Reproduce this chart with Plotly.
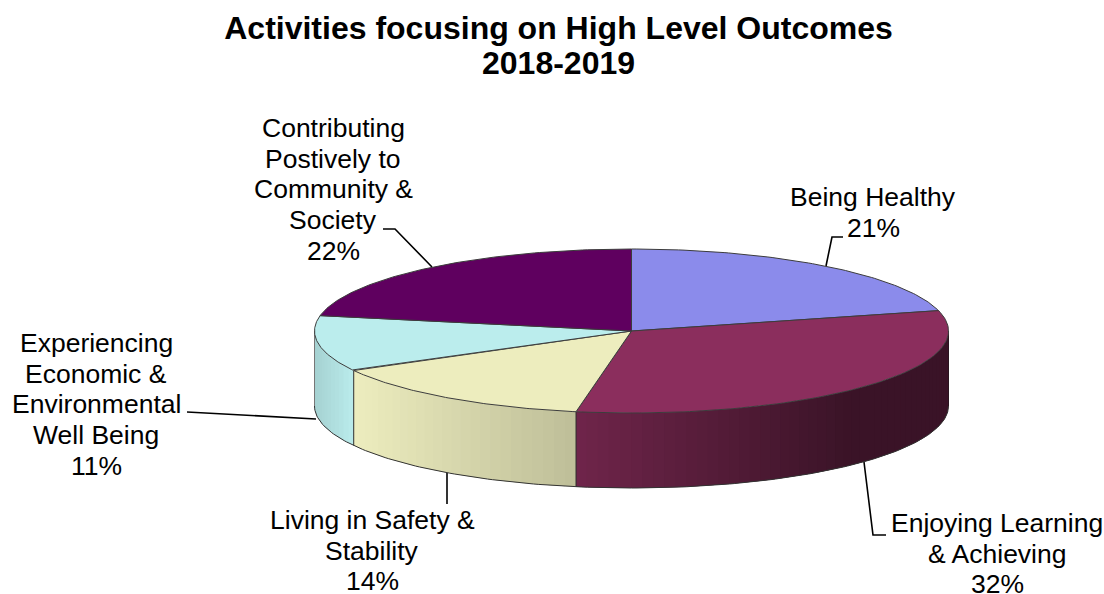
import numpy as np
import plotly.graph_objects as go

categories = ["Being Healthy", "Enjoying Learning & Achieving", "Living in Safety & Stability",
              "Experiencing Economic & Environmental Well Being", "Contributing Postively to Community & Society"]
shares = [21, 31.8, 14.2, 11, 22]
colors = ["#8B8BEB", "#8B2E5D", "#EDEDBE", "#BBEDED", "#5F005F"]
title_lines = ["Activities focusing on High Level Outcomes", "2018-2019"]
label_lines = [
    ["Being Healthy", "21%"],
    ["Enjoying Learning", "& Achieving", "32%"],
    ["Living in Safety &", "Stability", "14%"],
    ["Experiencing", "Economic &", "Environmental", "Well Being", "11%"],
    ["Contributing", "Postively to", "Community &", "Society", "22%"],
]

# geometry of the drawing, in page pixels
CX, CY, RX, RY, DEPTH = 631.5, 331, 317, 82, 75
FONT = "Liberation Sans, Arial, sans-serif"
label_anchor = [(873, 197), (997, 523), (372, 520), (96, 343), (333, 128)]
LINE_PITCH = 30.7
leaders = [
    [(826, 266), (832, 237), (843, 237)],
    [(864, 462), (873, 535), (886, 535)],
    [(447, 472), (447, 504)],
    [(187, 412), (316, 419)],
    [(432, 267), (395, 229), (383, 229)],
]


def px(a):
    return CX + RX * np.sin(np.radians(a))


def py(a):
    return CY - RY * np.cos(np.radians(a))


def shade(x):
    return np.interp(x, [314, 355, 576, 850, 948], [0.88, 1.0, 0.8, 0.42, 0.42])


def dim(hex_color, f):
    rgb = [int(hex_color[i:i + 2], 16) for i in (1, 3, 5)]
    return "rgb(%d,%d,%d)" % tuple(round(c * f) for c in rgb)


fig = go.Figure()


def poly(xs, ys, fill=None, line="#3c3c3c", width=1.0):
    fig.add_trace(go.Scatter(
        x=xs, y=ys, mode="lines", fill="toself" if fill else None, fillcolor=fill,
        line=dict(color=line, width=width), hoverinfo="skip", showlegend=False))


edges = np.concatenate([[0], np.cumsum(shares)]) * 3.6

# leader lines lie behind the pie
for pts in leaders:
    poly([p[0] for p in pts], [p[1] for p in pts], line="#000000", width=1.6)

# front wall, as thin strips so that it can carry the horizontal shading
for i, col in enumerate(colors):
    a0, a1 = max(edges[i], 90), min(edges[i + 1], 270)
    if a1 <= a0:
        continue
    steps = np.linspace(a0, a1, max(2, int((a1 - a0) / 2) + 1))
    # each strip runs on under its neighbour, so no seam shows between them
    for s0, s1, s2 in zip(steps[:-1], steps[1:], list(steps[2:]) + [a1]):
        c = dim(col, shade(px((s0 + s1) / 2)))
        arc = np.linspace(s0, s2, 5)
        xs = np.concatenate([px(arc), px(arc[::-1]), [px(s0)]])
        ys = np.concatenate([py(arc), py(arc[::-1]) + DEPTH, [py(s0)]])
        poly(xs, ys, fill=c, line=c, width=0)
    if a0 > 90:
        poly([px(a0), px(a0)], [py(a0), py(a0) + DEPTH], line="#2e2e2e", width=1)
front = np.linspace(90, 270, 181)
poly(px(front), py(front) + DEPTH, line="#333333", width=1)
poly([px(90), px(90)], [py(90), py(90) + DEPTH], line="#2a1420", width=1)
poly([px(270), px(270)], [py(270), py(270) + DEPTH], line="#777777", width=1)

# top face
for i, col in enumerate(colors):
    arc = np.linspace(edges[i], edges[i + 1], 90)
    xs = np.concatenate([[CX], px(arc), [CX]])
    ys = np.concatenate([[CY], py(arc), [CY]])
    poly(xs, ys, fill=col, line="#3c3c3c", width=1)

annotations = []
for lines, (ax, ay) in zip(label_lines, label_anchor):
    for k, t in enumerate(lines):
        annotations.append(dict(x=ax, y=ay + k * LINE_PITCH, text=t, showarrow=False, xref="x", yref="y",
                                xanchor="center", yanchor="middle", font=dict(size=26.5, color="#000000", family=FONT)))
annotations.append(dict(x=558.5, y=63, text=f"<b>{title_lines[1]}</b>", showarrow=False, xref="x", yref="y",
                        xanchor="center", yanchor="middle", font=dict(size=32, color="#000000", family=FONT)))

fig.update_layout(
    width=1104, height=594, margin=dict(l=0, r=0, t=0, b=0), showlegend=False,
    paper_bgcolor="#ffffff", plot_bgcolor="#ffffff",
    title=dict(text=f"<b>{title_lines[0]}</b>", x=558.5 / 1104, xanchor="center", y=1 - 28 / 594, yanchor="middle",
               xref="paper", yref="container", automargin=False,
               font=dict(size=32, color="#000000", family=FONT)),
    xaxis=dict(range=[0, 1104], visible=False, fixedrange=True),
    yaxis=dict(range=[594, 0], visible=False, fixedrange=True),
    annotations=annotations,
)
fig.write_html("out.html", post_script="document.body.style.margin='0';", config={"displayModeBar": False})
